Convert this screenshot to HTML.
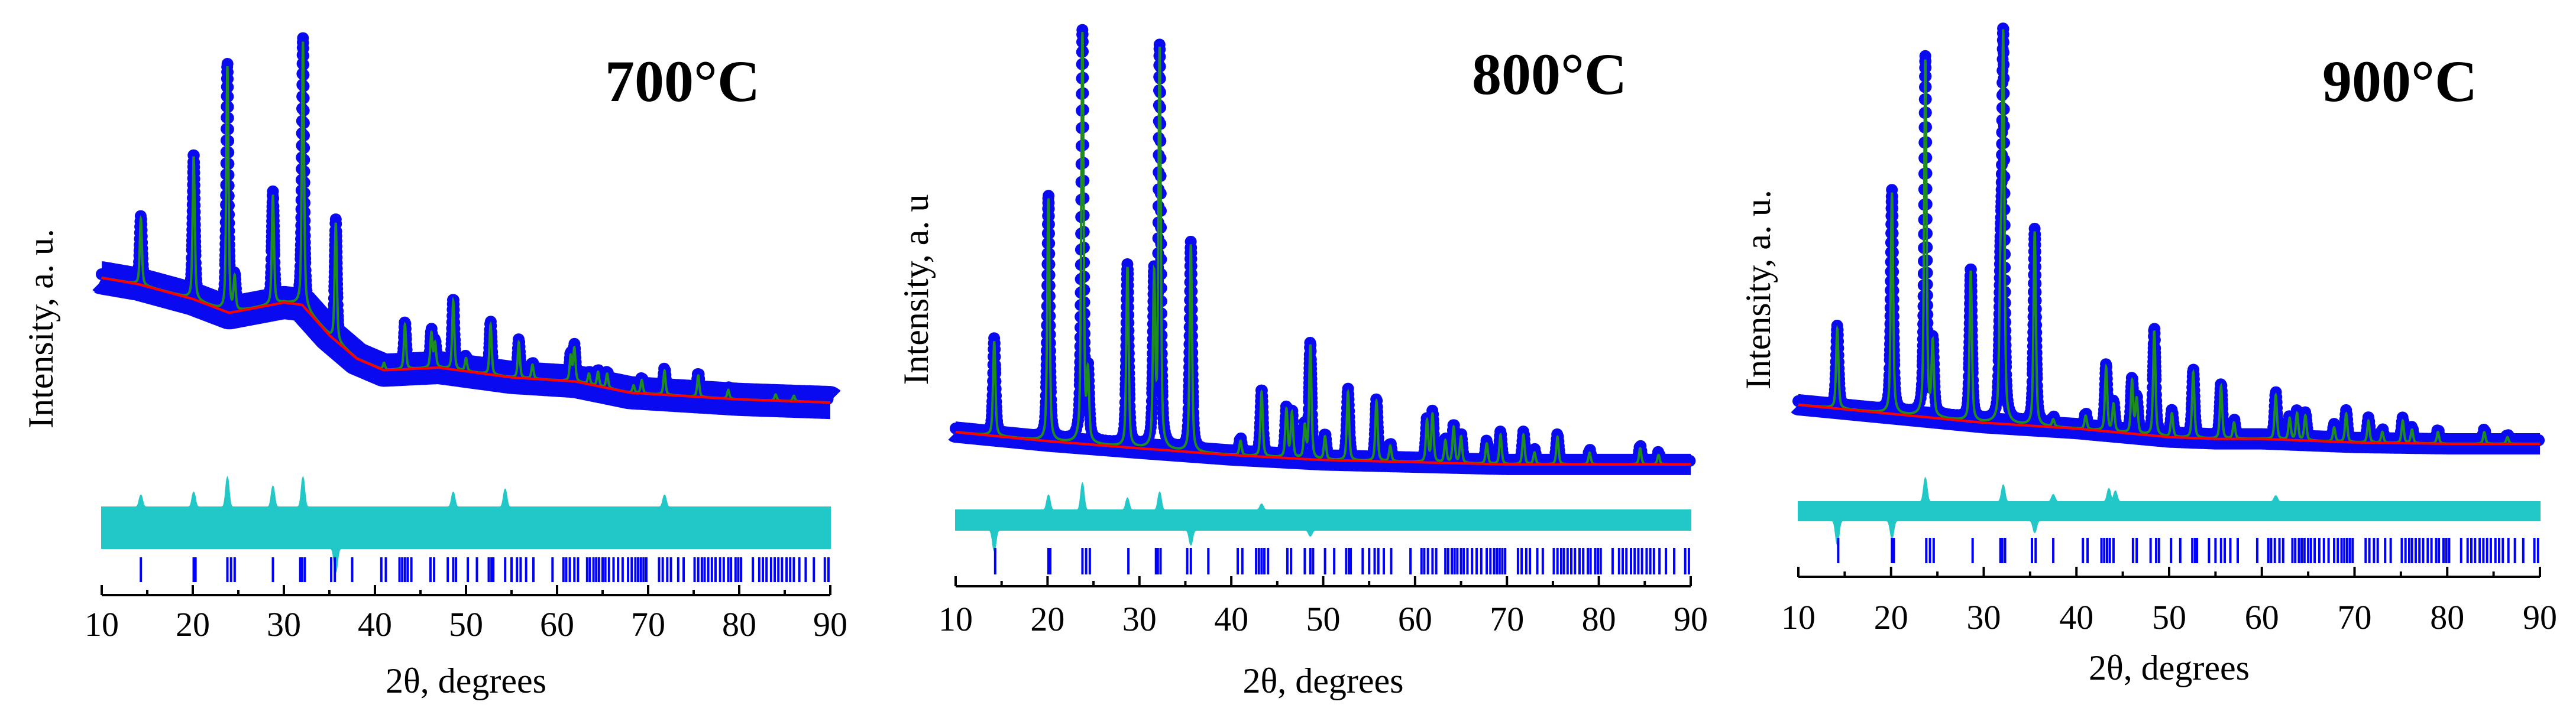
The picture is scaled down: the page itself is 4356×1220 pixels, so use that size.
<!DOCTYPE html>
<html><head><meta charset="utf-8"><style>
html,body{margin:0;padding:0;background:#fff;}
svg{display:block;}
text{font-family:"Liberation Serif",serif;fill:#000;}
</style></head><body>
<svg id="chart" width="4356" height="1220" viewBox="0 0 4356 1220" xmlns="http://www.w3.org/2000/svg">
<rect width="4356" height="1220" fill="#fff"/>
</svg>
<script>
// ---- Data (intensity, arbitrary units) ----
const xTicks = [10,20,30,40,50,60,70,80,90];
const titles = ["700°C","800°C","900°C"];
const yTitles = ["Intensity, a. u.","Intensity, a. u","Intensity, a. u."];

// panel 1 (700 C)
const bg1Angles = [10,14,20,24,30,32,35,38,41,47,55,62,68,80,90];
const bg1Values = [447,433,400,369,392,387,319,267,241,247,225,216,191,176,169];
const pk1Pos = [14.3,20.1,23.8,24.6,28.8,32.1,35.7,41,43.3,46.2,46.6,48.6,50.0,52.7,55.8,57.3,61.5,61.9,63.5,64.5,65.5,68.4,69.3,71.8,75.5,78.8,84,86];
const pk1Top = [579,717,917,445,631,973,569,257,343,323,300,395,267,343,303,253,272,289,233,237,233,207,219,240,229,197,187,184];

// panel 2 (800 C)
const bg2Angles = [10,20,30,40,50,60,70,80,90];
const bg2Values = [103,83,67,52,41,36,31,31,31];
const pk2Pos = [14.2,20.1,23.8,24.4,28.7,31.6,32.2,35.6,41,43.3,46.0,46.6,48.0,48.6,50.2,52.7,55.8,57.3,61.3,61.9,63.3,64.2,65,67.8,69.3,71.8,73,75.5,79,84.5,86.5];
const pk2Top = [305,623,990,225,469,440,950,520,83,192,152,144,113,295,92,192,172,72,128,141,83,113,92,77,97,97,57,92,57,67,52];

// panel 3 (900 C)
const bg3Angles = [10,20,30,40,50,55,60,70,80,90];
const bg3Values = [164,144,124,111,92,88,88,80,77,77];
const pk3Pos = [14.2,20.1,23.7,24.5,28.6,31.8,32.1,35.5,37.5,41,43.2,44,46,46.5,48.4,50.3,52.6,55.6,57,61.5,63,63.8,64.7,67.8,69.1,71.5,73,75.2,76.2,79,84,86.5];
const pk3Top = [333,636,930,297,461,420,960,549,130,139,247,164,216,175,328,144,236,205,124,185,133,144,139,113,144,128,103,128,108,103,103,92];

// difference-curve spikes (angle, amplitude; + up)
const d1Pos = [14.3,20.1,23.8,28.8,32.1,35.7,48.6,54.3,71.8];
const d1Amp = [20,25,50,35,50,-40,25,30,20];
const d2Pos = [14.2,20.1,23.8,28.7,32.2,35.6,43.3,48.6];
const d2Amp = [-35,25,45,20,30,-25,10,-10];
const d3Pos = [14.2,20.1,23.7,32.1,35.5,37.5,43.5,44.2,61.5];
const d3Amp = [-40,-30,40,28,-20,12,22,18,10];

// Bragg reflection positions
const braggPos = [14.3,20.1,20.3,23.8,24.2,24.6,28.8,31.8,32.0,32.3,35.2,35.6,37.5,40.7,41.2,42.7,43.0,43.3,43.6,44.0,46.1,46.5,48.0,48.6,48.9,50.2,51.2,52.5,52.8,53.0,54.3,55.0,55.6,56.0,56.6,57.4,59.5,60.7,61.0,61.4,61.9,62.3,63.3,63.6,64.0,64.3,64.6,65.0,65.3,65.7,66.2,66.7,67.2,67.8,68.2,68.6,68.9,69.2,69.5,69.8,71.2,71.6,72.1,72.5,73.3,73.9,75.1,75.5,75.9,76.2,76.6,77.0,77.4,77.9,78.3,78.8,79.1,79.6,79.9,80.2,81.5,82.2,82.6,83.0,83.5,83.9,84.3,84.7,85.2,85.6,86.0,86.6,87.3,88.2,89.4,89.8];

// ---- Layout (not data) ----
const panels = [
 {x0:172,x1:1404,axisY:1007,labY:1076,xtY:1172,ytX:69,ytY:556,titX:1023,titY:171,diffY:893,diffH:70,bragg:[943,985],band:56,w:0.14,
  bgA:bg1Angles,bgV:bg1Values,pos:pk1Pos,top:pk1Top,dP:d1Pos,dA:d1Amp},
 {x0:1616,x1:2859,axisY:992,labY:1067,xtY:1172,ytX:1549,ytY:490,titX:2489,titY:159,diffY:880,diffH:34,bragg:[927,972],band:36,w:0.15,
  bgA:bg2Angles,bgV:bg2Values,pos:pk2Pos,top:pk2Top,dP:d2Pos,dA:d2Amp},
 {x0:3041,x1:4295,axisY:976,labY:1064,xtY:1150,ytX:2973,ytY:490,titX:3927,titY:171,diffY:865,diffH:32,bragg:[910,953],band:36,w:0.15,
  bgA:bg3Angles,bgV:bg3Values,pos:pk3Pos,top:pk3Top,dP:d3Pos,dA:d3Amp}
];
const NS="http://www.w3.org/2000/svg";
const svg=document.getElementById('chart');
function mk(tag,attrs,parent){const e=document.createElementNS(NS,tag);for(const k in attrs)e.setAttribute(k,attrs[k]);(parent||svg).appendChild(e);return e;}
function yOf(I){return 809.4-0.759*I;}
function interp(a,v,x){if(x<=a[0])return v[0];for(let i=1;i<a.length;i++){if(x<=a[i]){const t=(x-a[i-1])/(a[i]-a[i-1]);return v[i-1]+t*(v[i]-v[i-1]);}}return v[v.length-1];}

panels.forEach((p,pi)=>{
  const g=mk('g',{});
  
  
  const xs=a=>p.x0+(a-10)*(p.x1-p.x0)/80;
  const bgAt=a=>interp(p.bgA,p.bgV,a);
  const heights=p.pos.map((q,i)=>Math.max(0,p.top[i]-bgAt(q)));
  const calcAt=a=>{let s=bgAt(a);for(let i=0;i<p.pos.length;i++){const d=(a-p.pos[i])/p.w;s+=heights[i]*(0.5/(1+d*d)+0.5*Math.exp(-0.693*d*d));}return s;};
  let bgPts=[],calcPts=[];
  for(let a=10;a<=90.0001;a+=0.01){bgPts.push(xs(a).toFixed(1)+','+yOf(bgAt(a)).toFixed(1));calcPts.push([xs(a),yOf(calcAt(a))]);}
  // observed band
  const band=mk('polyline',{points:bgPts.join(' '),fill:'none',stroke:'#0a0af0','stroke-width':p.band,'stroke-linejoin':'round','stroke-linecap':'butt'},g);
  
  
  const obs=mk('g',{fill:'#0a0af0'},g);
  
  
  let acc=99;
  for(let i=0;i<calcPts.length;i++){
    if(i>0){acc+=Math.hypot(calcPts[i][0]-calcPts[i-1][0],calcPts[i][1]-calcPts[i-1][1]);}
    if(acc>=7){acc=0;mk('circle',{cx:calcPts[i][0].toFixed(1),cy:(calcPts[i][1]-6).toFixed(1),r:10},obs);}
  }
  const calc=mk('polyline',{points:calcPts.map(q=>q[0].toFixed(1)+','+q[1].toFixed(1)).join(' '),fill:'none',stroke:'#1e8c1e','stroke-width':4},g);
  
  
  const bgl=mk('polyline',{points:bgPts.join(' '),fill:'none',stroke:'#ff0000','stroke-width':4},g);
  
  
  // difference curve
  let top=[],bot=[];
  for(let a=10;a<=90.0001;a+=0.05){
    let s=0;for(let i=0;i<p.dP.length;i++){const d=(a-p.dP[i])/0.25;s+=p.dA[i]*Math.exp(-d*d);}
    const x=xs(a).toFixed(1);
    top.push(x+','+(p.diffY-p.diffH/2-Math.max(0,s)).toFixed(1));
    bot.unshift(x+','+(p.diffY+p.diffH/2-Math.min(0,s)).toFixed(1));
  }
  const diff=mk('polygon',{points:top.concat(bot).join(' '),fill:'#22c8c8',stroke:'#22c8c8','stroke-width':2},g);
  
  
  // bragg ticks
  const bg_=mk('g',{stroke:'#0000ff','stroke-width':4},g);
  
  
  braggPos.forEach(b=>{const l=mk('line',{x1:xs(b),x2:xs(b),y1:p.bragg[0],y2:p.bragg[1]},bg_);
    
    });
  // axis
  const ax=mk('g',{stroke:'#000','stroke-width':4},g);
  
  
  mk('line',{x1:p.x0,x2:p.x1,y1:p.axisY,y2:p.axisY},ax);
  for(let t=10;t<=90;t+=5){const major=t%10===0;mk('line',{x1:xs(t),x2:xs(t),y1:p.axisY,y2:p.axisY-(major?17:9)},ax);}
  xTicks.forEach(t=>{const tx=mk('text',{x:xs(t),y:p.labY,'font-size':58,'text-anchor':'middle'},g);tx.textContent=t;
    
    });
  const xt=mk('text',{x:(p.x0+p.x1)/2,y:p.xtY,'font-size':60,'text-anchor':'middle'},g);
  xt.textContent='2θ, degrees';
  
  
  const yt=mk('text',{x:0,y:0,'font-size':60,'text-anchor':'middle',transform:'translate('+(p.ytX+20)+','+p.ytY+') rotate(-90)'},g);
  yt.textContent=yTitles[pi];
  
  
  const ti=mk('text',{x:p.titX,y:p.titY,'font-size':100,'font-weight':'bold'},g);
  ti.textContent=titles[pi];
  
  
});
</script>
</body></html>
